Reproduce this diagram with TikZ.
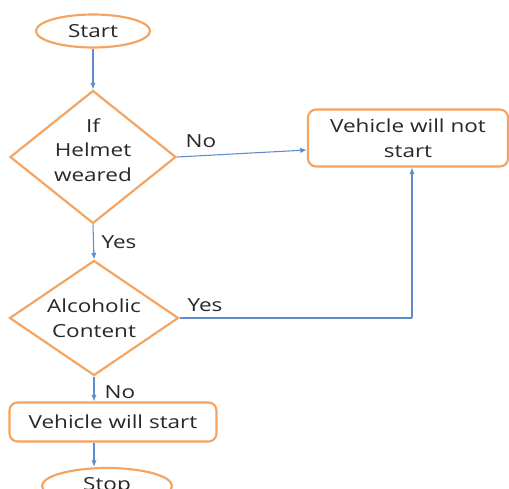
\documentclass[tikz,border=0pt]{standalone}
\usepackage{fontspec}
\setmainfont[FakeStretch=1.25]{Open Sans}
\usetikzlibrary{shapes.geometric,arrows.meta}
\definecolor{oline}{RGB}{244,164,96}
\definecolor{bline}{RGB}{95,140,205}
\definecolor{tcol}{RGB}{40,40,40}
\tikzset{
  txt/.style={font=\fontsize{13.5}{18.5}\selectfont,text=tcol},
  term/.style={ellipse,draw=oline,line width=1.6pt,minimum width=114*0.75pt,minimum height=33*0.75pt,inner sep=0pt,txt},
  dec/.style={diamond,draw=oline,line width=1.6pt,inner sep=0pt,aspect=1.25,txt,align=center},
  proc/.style={rectangle,rounded corners=6pt,draw=oline,line width=1.6pt,inner sep=0pt,txt,align=center},
  conn/.style={draw=bline,line width=0.8pt,-{Latex[length=5pt,width=4pt]}},
  lab/.style={txt}
}
\begin{document}
\begin{tikzpicture}[x=0.75pt,y=-0.75pt]
\clip (0,0) rectangle (509,488);
\fill[white] (0,0) rectangle (509,488);
\node[term] (start) at (93,31) {Start};
\node[dec,minimum width=166*0.75pt,minimum height=133*0.75pt] (d1) at (93,157) {};
\node[txt,align=center] (d1t) at (93,150) {If\\Helmet\\weared};
\node[proc,minimum width=200*0.75pt,minimum height=57*0.75pt] (nost) at (408,138) {Vehicle will not\\start};
\node[dec,minimum width=169*0.75pt,minimum height=115*0.75pt] (d2) at (94,318) {Alcoholic\\Content};
\node[proc,minimum width=207*0.75pt,minimum height=39*0.75pt] (st) at (113,422) {Vehicle will start};
\node[term,minimum width=130*0.75pt,minimum height=36*0.75pt] (stop) at (107,486) {Stop};
\coordinate (c1) at (412,318);
\draw[conn] (start.south) -- (d1.north);
\draw[conn] (d1.east) -- (nost.west|-0,150);
\draw[conn] (d1.south) -- (d2.north);
\draw[draw=bline,line width=0.8pt] (d2.east) -- (c1);
\draw[conn] (c1) -- (c1|-nost.south);
\draw[conn] (d2.south) -- (d2.south|-st.north);
\draw[conn] (d2.south|-st.south) -- (d2.south|-stop.north);
\node[lab] (no1) at (201,141) {No};
\node[lab] (yes1) at (119,242) {Yes};
\node[lab] (yes2) at (205,305) {Yes};
\node[lab] (no2) at (120,392) {No};
\end{tikzpicture}
\end{document}
